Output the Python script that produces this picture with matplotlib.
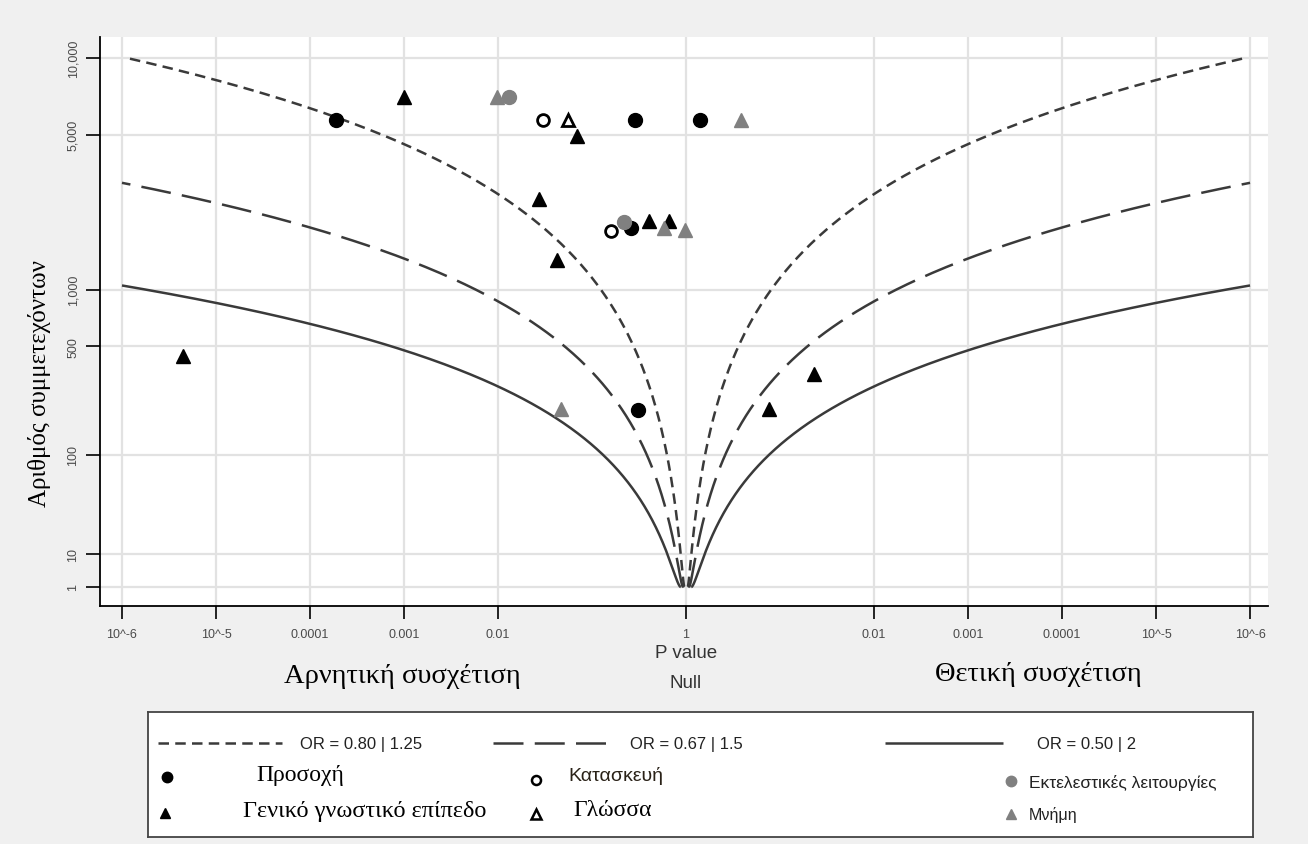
import math
import numpy as np
import matplotlib
matplotlib.use("Agg")
import matplotlib.pyplot as plt

# ---------------- data ----------------
or_values = [0.80, 0.67, 0.50]
or_labels = ["OR = 0.80 | 1.25", "OR = 0.67 | 1.5", "OR = 0.50 | 2"]

x_tick_p = [1e-6, 1e-5, 1e-4, 1e-3, 1e-2, 1, 1e-2, 1e-3, 1e-4, 1e-5, 1e-6]
x_tick_side = [-1, -1, -1, -1, -1, 0, 1, 1, 1, 1, 1]
x_tick_labels = ["10^-6", "10^-5", "0.0001", "0.001", "0.01", "1",
                 "0.01", "0.001", "0.0001", "10^-5", "10^-6"]
y_ticks = [1, 10, 100, 500, 1000, 5000, 10000]
y_tick_labels = ["1", "10", "100", "500", "1,000", "5,000", "10,000"]

# studies: p-value, side of association (-1 negative, +1 positive), participants
attention_p = [1.9e-4, 0.29, 0.71, 0.26, 0.31]
attention_side = [-1, -1, 1, -1, -1]
attention_n = [5735, 5735, 5735, 1970, 205]

general_p = [4.5e-6, 1.0e-3, 0.069, 0.027, 0.40, 0.66, 0.042, 0.13, 0.043]
general_side = [-1, -1, -1, -1, -1, -1, -1, 1, 1]
general_n = [440, 7080, 4950, 2670, 2130, 2130, 1390, 209, 345]

construction_p = [0.030, 0.16]
construction_side = [-1, -1]
construction_n = [5735, 1920]

language_p = [0.056]
language_side = [-1]
language_n = [5735]

executive_p = [0.013, 0.22]
executive_side = [-1, -1]
executive_n = [7080, 2110]

memory_p = [0.0098, 0.26, 0.58, 0.98, 0.047]
memory_side = [-1, 1, -1, -1, -1]
memory_n = [7080, 5735, 1980, 1940, 209]

# ---------------- helpers ----------------
W, H = 1308, 845
def fx(x):
    return x / W
def fy(y):
    return 1 - y / H

def pos(p, side):
    return [s * (-math.log10(v)) if s != 0 else 0.0 for v, s in zip(p, side)]

def fwd(n):
    n = np.asarray(n, dtype=float)
    l = np.log10(np.clip(n, 1e-300, None))
    return np.sign(l) * l ** 2

def inv(t):
    t = np.asarray(t, dtype=float)
    return 10 ** (np.sign(t) * np.sqrt(np.abs(t)))

SANS = ["Liberation Sans", "DejaVu Sans"]
SERIF = ["Liberation Serif", "DejaVu Serif"]

fig = plt.figure(figsize=(W / 100, H / 100), dpi=100)
fig.patch.set_facecolor("#f0f0f0")

ax = fig.add_axes([fx(100), fy(607), fx(1268) - fx(100), fy(38) - fy(607)])
ax.set_facecolor("white")
ax.set_yscale("function", functions=(fwd, inv))
ax.set_xlim(-6.234, 6.191)
ax.set_ylim(0.1745, 12000)

# grid
grid_c = "#e2e2e2"
for xt in pos(x_tick_p, x_tick_side):
    ax.axvline(xt, color=grid_c, lw=1.6, zorder=0)
for yt in y_ticks:
    ax.axhline(yt, color=grid_c, lw=1.6, zorder=0)

# contours
k = 0.218
z_crit = 4.8916
curve_c = "#3a3a3a"
styles = [(4.2, 2.5), (12.0, 4.5), None]
for orv, st in zip(or_values, styles):
    b = k * abs(math.log(orv))
    nmax = min(10000.0, (z_crit / b) ** 2)
    N = np.logspace(0, math.log10(nmax), 500)
    pv = np.array([math.erfc(b * math.sqrt(n) / math.sqrt(2)) for n in N])
    xv = -np.log10(pv)
    for side in (-1, 1):
        ln, = ax.plot(side * xv, N, color=curve_c, lw=1.8, zorder=2,
                      solid_capstyle="butt", dash_capstyle="butt")
        if st is not None:
            ln.set_dashes(st)

# points
ms = 10
ax.plot(pos(attention_p, attention_side), attention_n, "o", color="black", ms=ms, zorder=3)
ax.plot(pos(general_p, general_side), general_n, "^", color="black", ms=ms, zorder=3)
ax.plot(pos(construction_p, construction_side), construction_n, "o", mfc="white",
        mec="black", mew=2.0, ms=8.5, zorder=3)
ax.plot(pos(language_p, language_side), language_n, "^", mfc="white",
        mec="black", mew=2.0, ms=8.5, zorder=3)
ax.plot(pos(executive_p, executive_side), executive_n, "o", color="#808080", ms=ms, zorder=3)
ax.plot(pos(memory_p, memory_side), memory_n, "^", color="#808080", ms=ms, zorder=3)

# axes styling
for s in ["top", "right"]:
    ax.spines[s].set_visible(False)
for s in ["left", "bottom"]:
    ax.spines[s].set_color("black")
    ax.spines[s].set_linewidth(1.3)
ax.set_xticks(pos(x_tick_p, x_tick_side))
ax.set_xticklabels(x_tick_labels, family=SANS, fontsize=9, color="#4a4a4a")
ax.set_yticks(y_ticks)
ax.set_yticklabels(y_tick_labels, family=SANS, fontsize=9, color="#4a4a4a",
                   rotation=90, va="center")
ax.minorticks_off()
ax.tick_params(axis="x", length=9, width=1.2, pad=7, color="black")
ax.tick_params(axis="y", length=10, width=1.2, pad=5, color="black")

# texts
fig.text(fx(40), fy(384), "Αριθμός συμμετεχόντων", rotation=90, ha="center",
         va="center", family=SERIF, fontsize=18, color="black")
fig.text(fx(686), fy(653), "P value", ha="center", va="center", family=SANS,
         fontsize=13.5, color="#333333")
fig.text(fx(686), fy(684), "Null", ha="center", va="center", family=SANS,
         fontsize=13.5, color="#333333")
fig.text(fx(402), fy(677), "Αρνητική συσχέτιση", ha="center", va="center",
         family=SERIF, fontsize=20.5, color="black")
fig.text(fx(1038), fy(675), "Θετική συσχέτιση", ha="center", va="center",
         family=SERIF, fontsize=20.5, color="black")

# legend box
lg = fig.add_axes([fx(148), fy(838), fx(1253) - fx(148), fy(713) - fy(838)])
lg.set_xlim(148, 1253)
lg.set_ylim(838, 713)
lg.set_xticks([])
lg.set_yticks([])
lg.set_facecolor("white")
for s in lg.spines.values():
    s.set_color("#444444")
    s.set_linewidth(1.3)

line_x = [(158, 282), (493, 613), (885, 1003)]
text_x = [300, 630, 1037]
for (x0, x1), tx, st, lab in zip(line_x, text_x, styles, or_labels):
    ln, = lg.plot([x0, x1], [744, 744], color=curve_c, lw=1.8,
                  solid_capstyle="butt", dash_capstyle="butt")
    if st is not None:
        ln.set_dashes(st)
    lg.text(tx, 745, lab, ha="left", va="center", family=SANS, fontsize=12,
            color="#222222")

lms = 7.5
lg.plot([167], [778], "o", color="black", ms=lms)
lg.text(256, 775, "Προσοχή", ha="left", va="center", family=SERIF, fontsize=17)
lg.plot([165], [814], "^", color="black", ms=lms)
lg.text(243, 812, "Γενικό γνωστικό επίπεδο", ha="left", va="center", family=SERIF,
        fontsize=17.5)
lg.plot([536], [781], "o", mfc="white", mec="black", mew=1.8, ms=6.5)
lg.text(568, 776, "Κατασκευή", ha="left", va="center", family=SANS, fontsize=14,
        color="#2a2218")
lg.plot([536], [815], "^", mfc="white", mec="black", mew=1.8, ms=6.5)
lg.text(573, 811, "Γλώσσα", ha="left", va="center", family=SERIF, fontsize=17)
lg.plot([1011], [782], "o", color="#808080", ms=lms)
lg.text(1029, 783, "Εκτελεστικές λειτουργίες", ha="left", va="center",
        family=SANS, fontsize=12.5, color="#222222")
lg.plot([1011], [815], "^", color="#808080", ms=lms)
lg.text(1029, 815, "Μνήμη", ha="left", va="center", family=SANS, fontsize=11.5,
        color="#222222")

fig.savefig("out.png", dpi=100, facecolor=fig.get_facecolor())
